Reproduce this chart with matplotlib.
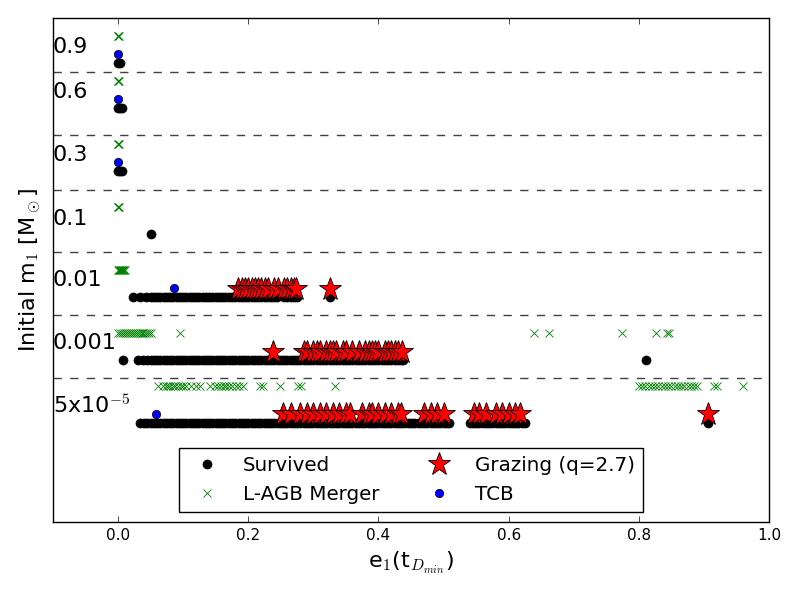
import matplotlib
matplotlib.use("Agg")
import matplotlib.pyplot as plt
import numpy as np

plt.style.use('classic')
plt.rcParams['mathtext.fontset'] = 'cm'

# ---- data (x = e1 at t_Dmin), one list per mass band, top to bottom ----
mass_labels = ['0.9', '0.6', '0.3', '0.1', '0.01', '0.001', '5x10$^{-5}$']

survived_x = [
    [0.0, 0.003],
    [0.0, 0.003, 0.006],
    [0.0, 0.003, 0.006],
    [0.05],
    [0.023, 0.033, 0.043, 0.05, 0.055, 0.06, 0.065, 0.07, 0.075, 0.08, 0.085,
     0.09, 0.095, 0.10, 0.105, 0.11, 0.115, 0.12, 0.125, 0.13, 0.135, 0.14,
     0.145, 0.15, 0.155, 0.16, 0.165, 0.17, 0.175, 0.18, 0.185, 0.19, 0.195,
     0.20, 0.205, 0.21, 0.215, 0.22, 0.225, 0.23, 0.235, 0.24, 0.244, 0.255,
     0.26, 0.265, 0.27, 0.275, 0.325],
    [0.008, 0.031, 0.038, 0.045, 0.05, 0.055, 0.06, 0.065, 0.07, 0.075, 0.08,
     0.085, 0.09, 0.095, 0.10, 0.105, 0.11, 0.115, 0.12, 0.125, 0.13, 0.135,
     0.14, 0.145, 0.15, 0.155, 0.16, 0.165, 0.17, 0.175, 0.18, 0.185, 0.19,
     0.195, 0.20, 0.205, 0.21, 0.215, 0.22, 0.225, 0.23, 0.235, 0.24, 0.245,
     0.25, 0.255, 0.26, 0.265, 0.27, 0.275, 0.28, 0.285, 0.29, 0.295, 0.30,
     0.305, 0.31, 0.315, 0.32, 0.325, 0.33, 0.335, 0.34, 0.345, 0.35, 0.355,
     0.36, 0.365, 0.37, 0.375, 0.38, 0.385, 0.39, 0.395, 0.40, 0.405, 0.41,
     0.415, 0.42, 0.425, 0.43, 0.435, 0.438, 0.811],
    [0.034, 0.04, 0.045, 0.05, 0.055, 0.06, 0.065, 0.07, 0.075, 0.08, 0.085,
     0.09, 0.095, 0.10, 0.105, 0.11, 0.115, 0.12, 0.125, 0.13, 0.135, 0.14,
     0.145, 0.15, 0.155, 0.16, 0.165, 0.17, 0.175, 0.18, 0.185, 0.19, 0.195,
     0.20, 0.205, 0.21, 0.215, 0.22, 0.225, 0.23, 0.235, 0.24, 0.245, 0.25,
     0.255, 0.26, 0.265, 0.27, 0.275, 0.28, 0.285, 0.29, 0.295, 0.30, 0.305,
     0.31, 0.315, 0.32, 0.325, 0.33, 0.335, 0.34, 0.345, 0.35, 0.355, 0.36,
     0.365, 0.37, 0.375, 0.38, 0.385, 0.39, 0.395, 0.40, 0.405, 0.41, 0.415,
     0.42, 0.425, 0.43, 0.435, 0.44, 0.445, 0.45, 0.455, 0.46, 0.465, 0.47,
     0.475, 0.48, 0.485, 0.49, 0.495, 0.50, 0.505, 0.508,
     0.54, 0.545, 0.55, 0.555, 0.56, 0.565, 0.57, 0.575, 0.58, 0.585, 0.59,
     0.595, 0.60, 0.605, 0.61, 0.615, 0.62, 0.625, 0.907],
]

lagb_x = [
    [-0.0008, 0.0, 0.0008],
    [-0.0008, 0.0, 0.0008],
    [-0.0008, 0.0, 0.0008],
    [-0.0008, 0.0, 0.0008],
    [0.0, 0.001, 0.002, 0.003, 0.004, 0.005, 0.006, 0.007, 0.008, 0.009, 0.01],
    [0.0, 0.003, 0.006, 0.009, 0.012, 0.015, 0.018, 0.021, 0.024, 0.027,
     0.03, 0.033, 0.036, 0.039, 0.042, 0.045, 0.048, 0.051, 0.095,
     0.639, 0.662, 0.774, 0.826, 0.843, 0.846],
    [0.062, 0.069, 0.073, 0.077, 0.08, 0.084, 0.088, 0.092, 0.096, 0.10, 0.105,
     0.112, 0.12, 0.126, 0.141, 0.149, 0.154, 0.158, 0.162, 0.166, 0.17, 0.175,
     0.181, 0.186, 0.192, 0.218, 0.223, 0.249, 0.276, 0.281, 0.333,
     0.80, 0.805, 0.81, 0.815, 0.82, 0.825, 0.83, 0.835, 0.84, 0.845, 0.85,
     0.855, 0.86, 0.865, 0.87, 0.875, 0.88, 0.885, 0.89, 0.915, 0.92, 0.96],
]

grazing_x = [
    [], [], [], [],
    [0.184, 0.19, 0.195, 0.2, 0.205, 0.21, 0.215, 0.22, 0.225, 0.23, 0.24,
     0.245, 0.255, 0.26, 0.265, 0.27, 0.274, 0.325],
    [0.238, 0.285, 0.29, 0.3, 0.305, 0.31, 0.32, 0.325, 0.33, 0.335, 0.345,
     0.35, 0.36, 0.37, 0.38, 0.385, 0.39, 0.395, 0.40, 0.41, 0.415, 0.42,
     0.425, 0.43, 0.436],
    [0.254, 0.265, 0.28, 0.29, 0.30, 0.31, 0.32, 0.33, 0.34, 0.35, 0.357,
     0.375, 0.385, 0.39, 0.40, 0.41, 0.42, 0.43, 0.435, 0.47, 0.48, 0.49,
     0.50, 0.547, 0.555, 0.565, 0.58, 0.59, 0.60, 0.61, 0.617, 0.907],
]

tcb_x = [
    [0.0], [0.0], [0.0], [],
    [0.086],
    [],
    [0.059],
]

# ---- layout: vertical placement of each mass band (axis units) ----
y_lagb = [7.714, 7.0, 6.0, 5.0, 4.0, 3.0, 2.159]
y_surv = [7.286, 6.571, 5.571, 4.571, 3.571, 2.571, 1.571]
y_tcb = [7.429, 6.714, 5.714, 4.714, 3.714, 2.714, 1.714]
y_graz = [7.42, 6.70, 5.70, 4.70, 3.70, 2.70, 1.71]
y_text = [7.545, 6.83, 5.825, 4.81, 3.84, 2.84, 1.86]
y_sep = [7.138, 6.138, 5.27, 4.28, 3.286, 2.281]


def stack(xs, ys):
    xx, yy = [], []
    for xl, yv in zip(xs, ys):
        xx += list(xl)
        yy += [yv] * len(xl)
    return np.array(xx), np.array(yy)


fig = plt.figure(figsize=(8, 6), dpi=100, facecolor='white')
ax = fig.add_axes([53 / 800, 78 / 600, 716 / 800, 504 / 600])

sx, sy = stack(survived_x, y_surv)
lx, ly = stack(lagb_x, y_lagb)
gx, gy = stack(grazing_x, y_graz)
tx, ty = stack(tcb_x, y_tcb)

ax.plot(sx, sy, 'o', color='k', mfc='k', mec='k', ms=6.5, label='Survived')
ax.plot(lx, ly, 'x', color='green', mec='green', ms=6, mew=0.6, label='L-AGB Merger')
ax.plot(gx, gy, '*', mfc='red', mec='k', ms=17, mew=0.6, label='Grazing (q=2.7)')
ax.plot(tx, ty, 'o', mfc='blue', mec='k', ms=6, mew=0.5, label='TCB')

for ys in y_sep:
    ax.axhline(ys, color='#404040', ls='--', lw=1)

for lab, yt in zip(mass_labels, y_text):
    ax.text(-0.1, yt, lab, fontsize=16, ha='left', va='center')

ax.set_xlim(-0.1, 1.0)
ax.set_ylim(0, 8)
ax.set_xticks([0.0, 0.2, 0.4, 0.6, 0.8, 1.0])
ax.set_yticks([])
ax.tick_params(axis='x', labelsize=11)
ax.set_xlabel('e$_1$(t$_{D_{min}}$)', fontsize=16)
ax.set_ylabel('Initial m$_1$ [M$_\\odot$]', fontsize=16, labelpad=7)

ax.legend(loc='lower center', ncol=2, numpoints=1, fontsize=14.3)

fig.savefig('out.png', dpi=100, facecolor='white')
